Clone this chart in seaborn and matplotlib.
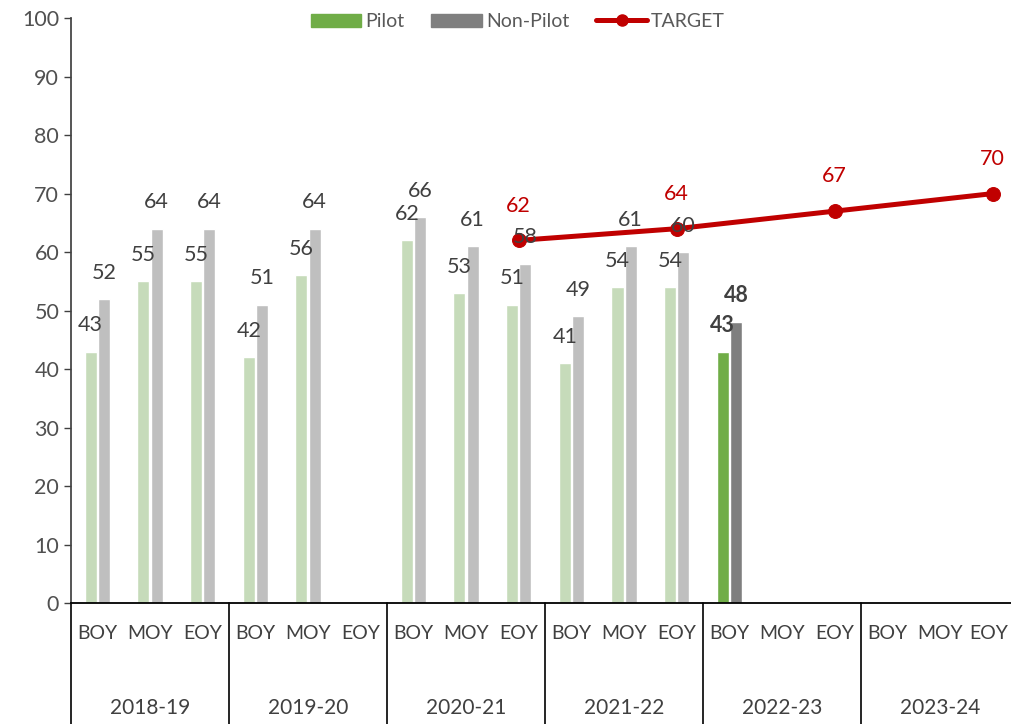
import numpy as np
import pandas as pd
import matplotlib
matplotlib.use("Agg")
import matplotlib.pyplot as plt
import seaborn as sns
from matplotlib.patches import Patch
from matplotlib.lines import Line2D

sns.set_theme(style="white")
plt.rcParams['font.family'] = ['Lato', 'DejaVu Sans']

years = ["2018-19", "2019-20", "2020-21", "2021-22", "2022-23", "2023-24"]
periods = ["BOY", "MOY", "EOY"]

# one value per slot (year x period), None = no data
pilot = [43, 55, 55, 42, 56, None, 62, 53, 51, 41, 54, 54, 43, None, None, None, None, None]
non_pilot = [52, 64, 64, 51, 64, None, 66, 61, 58, 49, 61, 60, 48, None, None, None, None, None]
target_slots = ["2020-21 EOY", "2021-22 EOY", "2022-23 EOY", "2023-24 EOY"]
target_vals = [62, 64, 67, 70]
current_slot = "2022-23 BOY"

slots = [f"{y} {p}" for y in years for p in periods]

df = pd.DataFrame({
    "slot": slots * 2,
    "series": ["Pilot"] * len(slots) + ["Non-Pilot"] * len(slots),
    "value": [np.nan if v is None else v for v in pilot + non_pilot],
})

light = {"Pilot": "#C5E0B4", "Non-Pilot": "#BFBFBF"}
dark = {"Pilot": "#70AD47", "Non-Pilot": "#7F7F7F"}
red = "#C00000"
txt = "#404040"

fig = plt.figure(figsize=(10.11, 7.24), dpi=100)
ax = fig.add_axes([0.0702, 0.167, 0.9378, 0.808])

sns.barplot(data=df.dropna(), x="slot", y="value", hue="series", order=slots,
            hue_order=["Pilot", "Non-Pilot"], palette=light, width=0.5, gap=0.08,
            legend=False, ax=ax, errorbar=None)

cur = slots.index(current_slot)
for cont, name in zip(ax.containers, ["Pilot", "Non-Pilot"]):
    for bar in cont:
        xc = bar.get_x() + bar.get_width() / 2
        i = int(round(xc))
        h = bar.get_height()
        if np.isnan(h):
            continue
        bold = i == cur
        if bold:
            bar.set_facecolor(dark[name])
        ax.annotate(f"{h:.0f}", (xc, h), xytext=(0, 19), textcoords="offset points",
                    ha="center", va="center", fontsize=15.5, color=txt,
                    fontweight="bold" if bold else "normal")

# target line
tx = [slots.index(s) for s in target_slots]
sns.lineplot(x=tx, y=target_vals, color=red, linewidth=3.6, marker="o", markersize=10,
             markeredgecolor=red, ax=ax, legend=False)
for x, v in zip(tx, target_vals):
    ax.annotate(f"{v}", (x, v), xytext=(0, 25), textcoords="offset points",
                ha="center", va="center", fontsize=15.5, color=red)

ax.set_xlim(-0.5, len(slots) - 0.5)
ax.set_ylim(0, 100)
ax.set_yticks(range(0, 101, 10))
ax.tick_params(axis="y", labelsize=15.5, labelcolor="#505050", left=True, length=5,
               color="#404040", width=1)
ax.set_xticks([])
ax.set_xlabel("")
ax.set_ylabel("")
for s in ["top", "right"]:
    ax.spines[s].set_visible(False)
ax.spines["left"].set_color("#404040")
ax.spines["bottom"].set_color("#000000")
ax.spines["bottom"].set_linewidth(1.3)

# two-level category axis
trans = ax.get_xaxis_transform()
for i, s in enumerate(slots):
    ax.text(min(i, len(slots) - 1.08), -0.052, s.split(" ")[1], transform=trans,
            ha="center", va="center", fontsize=14, color=txt, clip_on=False)
for j, y in enumerate(years):
    ax.text(j * 3 + 1, -0.18, y, transform=trans, ha="center", va="center",
            fontsize=15, color=txt, clip_on=False)
for j in range(len(years) + 1):
    ax.plot([j * 3 - 0.5] * 2, [0, -0.21], transform=trans, color="black",
            linewidth=1.2, clip_on=False)

handles = [Patch(color=dark["Pilot"]), Patch(color=dark["Non-Pilot"]),
           Line2D([0], [0], color=red, linewidth=3.6, marker="o", markersize=8)]
fig.legend(handles, ["Pilot", "Non-Pilot", "TARGET"], loc="center", ncol=3,
           bbox_to_anchor=(0.512, 0.97), frameon=False, fontsize=14, labelcolor="#595959",
           handlelength=2.6, handletextpad=0.2, columnspacing=1.4)

fig.savefig("out.png", dpi=100)
